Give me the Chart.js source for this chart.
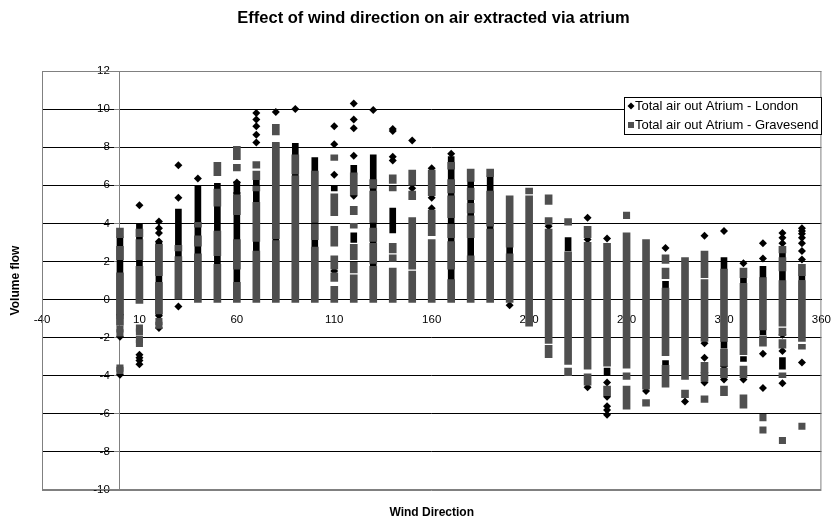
<!DOCTYPE html>
<html>
<head>
<meta charset="utf-8">
<script src="https://cdn.jsdelivr.net/npm/chart.js@4"></script>
<style>
  body { margin: 0; background: #fff; }
</style>
</head>
<body>
<canvas id="myChart" width="836" height="519"></canvas>
<script>
const directions = [0, 10, 20, 30, 40, 50, 60, 70, 80, 90, 100, 110, 120, 130, 140, 150, 160, 170,
  180, 190, 200, 210, 220, 230, 240, 250, 260, 270, 280, 290, 300, 310, 320, 330, 340, 350];

const xTicks = { min: -40, max: 360, step: 50 };
const yTicks = { min: -10, max: 12, step: 2 };

// readings pile up in columns: dense stacks are kept as [low, high], lone readings as values
const londonRuns = [
  [[-1.0, 3.3]], [[1.75, 4.0]], [[-0.8, 3.0]], [[0, 4.75]], [[0, 6.0]], [[0, 6.1]],
  [[0, 6.2]], [[0, 6.3]], [[0, 8.2]], [[0, 8.2]], [[0, 7.45]], [[5.7, 5.95]],
  [[6.55, 7.05], [3.0, 3.5]], [[0, 7.6]], [[3.5, 4.8]], [], [], [[0, 7.5]],
  [[0, 6.3]], [[0, 6.5]], [[2.4, 2.75]], [], [], [[2.55, 3.25]],
  [], [[-4.0, -3.6]], [], [], [[0.6, 0.95], [-3.5, -3.2]], [],
  [], [[1.6, 2.2], [-2.55, -2.2]], [[0.85, 1.15], [-3.25, -3.0]], [[1.15, 1.75], [-1.85, -1.6]],
  [[0.35, 2.45], [-3.65, -3.05]], [[1.0, 1.25]]
];

const londonPoints = [
  [-0.8, -1.95, -3.95], [4.95, -2.9, -3.05, -3.2, -3.4], [4.1, 3.75, 3.5, 3.05, -0.85, -1.5],
  [7.05, 5.35, -0.37], [6.35], [], [6.15, 5.6], [9.8, 9.45, 9.1, 8.65, 8.25], [9.85], [10.0], [],
  [9.1, 8.15, 6.55, 1.5], [10.3, 9.45, 9.0, 7.55, 5.45], [9.95], [8.95, 8.85, 7.5, 7.3],
  [8.35, 5.85], [6.9, 5.35, 4.8], [7.65], [], [], [-0.3], [], [3.85], [], [4.3, 3.15, -4.6],
  [3.2, -4.35, -5.1, -5.6, -5.8, -6.05], [], [-4.8], [2.7], [-5.35],
  [3.35, -2.3, -3.05, -3.85, -4.35], [3.6, -3.5, -4.2], [1.9, -4.2], [2.95, 2.15, -2.85, -4.65],
  [3.5, 3.25, 2.95, -1.85, -2.7, -4.4], [3.75, 3.6, 3.45, 3.25, 2.95, 2.55, 2.1, -3.3]
];

const gravesendRuns = [
  [[3.25, 3.75], [2.1, 2.8], [-1.35, 1.4]],
  [[3.3, 3.7], [2.1, 3.15], [-0.2, 1.75]],
  [[1.25, 2.9], [-0.75, 0.9]],
  [[2.55, 2.85], [0, 2.25]],
  [[3.8, 4.05], [2.8, 3.35], [-0.15, 2.4]],
  [[6.5, 7.2], [4.9, 5.8], [2.3, 3.6], [-0.15, 1.85]],
  [[7.35, 8.05], [6.75, 7.1], [4.45, 5.5], [1.6, 3.15], [-0.15, 0.9]],
  [[6.9, 7.25], [6.3, 6.75], [5.7, 5.95], [3.05, 5.1], [-0.15, 2.55]],
  [[8.65, 9.2], [3.2, 8.25], [-0.15, 3.1]],
  [[6.6, 7.6], [-0.15, 6.5]],
  [[4.05, 6.75], [3.15, 3.95], [-0.15, 2.75]],
  [[7.3, 7.6], [4.4, 5.55], [2.8, 3.85], [1.6, 2.3], [0.95, 1.4], [-0.15, 0.7]],
  [[5.5, 6.65], [4.45, 4.9], [3.75, 4.0], [2.1, 2.9], [1.4, 1.95], [-0.15, 1.3]],
  [[5.85, 6.3], [4.05, 5.7], [3.05, 3.75], [1.9, 2.95], [-0.15, 1.75]],
  [[6.1, 6.55], [5.7, 5.95], [2.45, 2.95], [2.0, 2.35], [-0.15, 1.65]],
  [[6.0, 6.8], [5.25, 5.7], [1.6, 4.3], [-0.15, 1.5]],
  [[5.45, 6.8], [3.35, 4.7], [-0.15, 3.15]],
  [[6.85, 7.2], [5.6, 6.3], [4.3, 5.45], [3.25, 3.95], [1.6, 3.05], [-0.15, 1.05]],
  [[6.2, 6.85], [5.25, 5.85], [4.55, 5.05], [3.25, 4.4], [-0.15, 2.3]],
  [[6.45, 6.85], [3.85, 5.7], [-0.15, 3.7]],
  [[2.75, 5.45], [-0.15, 2.4]],
  [[5.55, 5.85], [-1.4, 5.45]],
  [[5.0, 5.5], [3.95, 4.3], [-2.3, 3.7], [-3.05, -2.4]],
  [[3.9, 4.25], [-3.4, 2.5], [-4.0, -3.6]],
  [[3.25, 3.85], [-3.65, 3.0], [-4.5, -3.9]],
  [[-3.5, 2.95], [-5.05, -4.55]],
  [[-3.6, 3.5], [-4.2, -3.85], [-5.75, -4.55]],
  [[-4.7, 3.15], [-5.6, -5.25]],
  [[1.9, 2.35], [1.1, 1.65], [-2.95, 0.6], [-4.6, -3.45]],
  [[-4.2, 2.2], [-5.15, -4.75]],
  [[1.15, 2.55], [-2.2, 1.05], [-4.3, -3.3], [-5.4, -5.05]],
  [[-2.2, 1.6], [-3.5, -2.6], [-4.1, -3.6], [-5.05, -4.55]],
  [[1.15, 1.65], [-2.9, 0.85], [-4.1, -3.5], [-5.7, -5.0]],
  [[-1.6, 1.15], [-2.45, -1.9]],
  [[2.45, 2.8], [1.5, 2.2], [-1.4, 1.0], [-1.9, -1.5], [-2.55, -2.1], [-4.1, -3.85]],
  [[1.25, 1.85], [-2.2, 1.0], [-2.6, -2.35]]
];

const gravesendPoints = [
  [-1.55, -1.75, -3.6, -3.72], [-1.5, -1.7, -2.1, -2.3], [-1.15, -1.35],
  [], [], [], [], [], [], [], [], [], [], [], [], [], [], [], [], [], [], [], [], [], [], [],
  [4.42], [], [], [], [], [], [], [-6.2, -6.85], [-7.4], [-6.65]
];

const londonLabel = "Total air out Atrium - London";
const gravesendLabel = "Total air out Atrium - Gravesend";
const londonColor = "#000000";
const gravesendColor = "#4f4f4f";

function runData(runs) {
  const out = [];
  directions.forEach((d, i) => runs[i].forEach((r) => out.push({ x: d, y: r })));
  return out;
}

function pointData(points) {
  const out = [];
  directions.forEach((d, i) => points[i].forEach((v) => out.push({ x: d, y: v })));
  return out;
}

// frame, axis titles and the boxed legend, drawn like the original sheet
const extras = {
  id: "extras",
  afterDraw(chart) {
    const { ctx, chartArea: a } = chart;
    ctx.save();
    ctx.strokeStyle = "#808080";
    ctx.lineWidth = 1;
    ctx.strokeRect(a.left + 0.5, a.top + 0.5, a.right - a.left - 1, a.bottom - a.top - 1);

    ctx.fillStyle = "#000";
    ctx.font = 'bold 12px "Liberation Sans", Arial, sans-serif';
    ctx.textAlign = "center";
    ctx.textBaseline = "middle";
    ctx.fillText("Wind Direction", (a.left + a.right) / 2, 513);
    ctx.save();
    ctx.translate(16, (a.top + a.bottom) / 2);
    ctx.rotate(-Math.PI / 2);
    ctx.fillText("Volume flow", 0, 0);
    ctx.restore();

    // legend box
    const lx = 624, ly = 97, lw = 197, lh = 37;
    ctx.fillStyle = "#fff";
    ctx.fillRect(lx, ly, lw, lh);
    ctx.strokeStyle = "#000";
    ctx.strokeRect(lx + 0.5, ly + 0.5, lw, lh);
    ctx.fillStyle = londonColor;
    ctx.beginPath();
    ctx.moveTo(631, 102.5); ctx.lineTo(634.5, 106); ctx.lineTo(631, 109.5); ctx.lineTo(627.5, 106);
    ctx.closePath();
    ctx.fill();
    ctx.fillStyle = gravesendColor;
    ctx.fillRect(628, 122, 6, 6);
    ctx.fillStyle = "#000";
    ctx.font = '13px "Liberation Sans", Arial, sans-serif';
    ctx.textAlign = "left";
    ctx.fillText(londonLabel, 635, 106);
    ctx.fillText(gravesendLabel, 635, 125);
    ctx.restore();
  },
};

Chart.defaults.font.family = '"Liberation Sans", Arial, sans-serif';

const config = {
  type: "scatter",
  data: {
    datasets: [
      {
        type: "bar",
        label: londonLabel,
        data: runData(londonRuns),
        backgroundColor: londonColor,
        barThickness: 6,
        grouped: false,
        order: 4,
      },
      {
        type: "scatter",
        label: londonLabel,
        data: pointData(londonPoints),
        pointStyle: "rectRot",
        pointRadius: 4,
        backgroundColor: londonColor,
        borderColor: londonColor,
        borderWidth: 0,
        order: 3,
      },
      {
        type: "bar",
        label: gravesendLabel,
        data: runData(gravesendRuns),
        backgroundColor: gravesendColor,
        barThickness: 7,
        grouped: false,
        order: 2,
      },
      {
        type: "scatter",
        label: gravesendLabel,
        data: pointData(gravesendPoints),
        pointStyle: "rect",
        pointRadius: 5,
        backgroundColor: gravesendColor,
        borderColor: gravesendColor,
        borderWidth: 0,
        order: 1,
      },
    ],
  },
  options: {
    responsive: false,
    animation: false,
    layout: { padding: { left: 42, right: 11, top: 0, bottom: 29 } },
    plugins: {
      legend: { display: false },
      tooltip: { enabled: false },
      title: {
        display: true,
        text: "Effect of wind direction on air extracted via atrium",
        color: "#000",
        font: { size: 16.5, weight: "bold" },
        padding: { top: 8.5, bottom: 42.7 },
      },
    },
    scales: {
      x: {
        type: "linear",
        min: xTicks.min,
        max: xTicks.max,
        offset: false,
        position: { y: 0 },
        ticks: { stepSize: xTicks.step, color: "#000", font: { size: 11.5 }, maxRotation: 0, padding: 5 },
        grid: { display: false, offset: false },
        border: { display: true, color: "#000" },
      },
      // axis line, grid and tick marks at x = 0
      y: {
        type: "linear",
        min: yTicks.min,
        max: yTicks.max,
        position: { x: 0 },
        ticks: { stepSize: yTicks.step, display: false },
        grid: {
          color: (c) => (c.tick && (c.tick.value === yTicks.min || c.tick.value === yTicks.max) ? "#808080" : "#000"),
          tickLength: 5,
          tickColor: "#808080",
        },
        border: { display: true, color: "#808080" },
      },
      // tick labels, set a little left of the axis line
      yLabels: {
        type: "linear",
        axis: "y",
        min: yTicks.min,
        max: yTicks.max,
        position: { x: -5.2 },
        ticks: { stepSize: yTicks.step, color: "#000", font: { size: 11.5 } },
        grid: { display: false },
        border: { display: false },
      },
    },
  },
  plugins: [extras],
};

const myChart = new Chart(document.getElementById("myChart"), config);
</script>
</body>
</html>
